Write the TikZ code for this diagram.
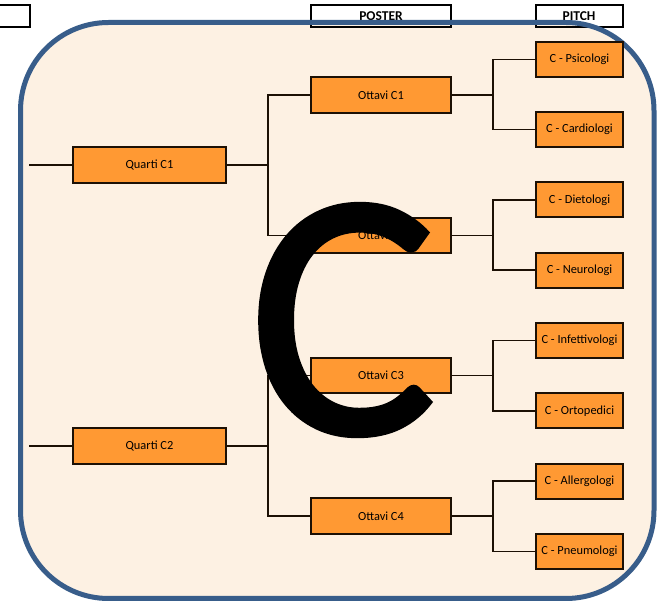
\documentclass[tikz,border=0pt]{standalone}
\usepackage{fontspec}
\setmainfont{Carlito}
\newfontfamily\bigletter[FakeBold=1]{Carlito}
\usetikzlibrary{positioning}

\definecolor{cream}{RGB}{253,241,227}
\definecolor{boxorange}{RGB}{255,153,51}
\definecolor{frameblue}{RGB}{56,93,138}
\definecolor{edgebrown}{RGB}{28,16,4}

\begin{document}
\begin{tikzpicture}[
	x = 1pt, y = -1pt, % one unit per pixel, y grows downwards
	W/.style={draw=edgebrown, line width=1.5pt},  % bracket wires
	Q/.style={rectangle, draw=edgebrown, fill=boxorange, line width=2pt, inner sep=0pt, minimum width=153pt, minimum height=35.5pt, font=\fontsize{12.4}{14}\selectfont},
	O/.style={Q, minimum width=140pt},
	L/.style={Q, minimum width=87pt, minimum height=35pt},
	H/.style={rectangle, draw=black, line width=2pt, inner sep=0pt, minimum height=22pt},
	HT/.style={inner sep=0pt, anchor=base, font=\fontsize{13.5}{15}\selectfont\bfseries},
	]

	\useasboundingbox (0,0) rectangle (657,601);

	% background panel
	\fill[cream, rounded corners=88pt] (20.5,22.5) rectangle (654,598.5);

	% column headers
	\node[H, minimum width=90pt]  (hleft)   at (-15,16)  {};
	\node[H, minimum width=140pt] (hposter) at (381,16)  {};
	\node[H, minimum width=87pt]  (hpitch)  at (579,16)  {};
	\begin{scope}
		\clip (300,0) rectangle (640,19.5);
		\node[HT] (tposter) at (381,20.5) {POSTER};
		\node[HT] (tpitch)  at (579,20.5) {PITCH};
	\end{scope}

	% panel frame
	\draw[frameblue, line width=5pt, rounded corners=88pt] (20.5,22.5) rectangle (654,598.5);

	% Nodes and their relative positions
	% quarti
	\node[Q] (q1) at (149.5,165) {Quarti C1};
	\node[Q] (q2) [below = 243.5pt of q1] {Quarti C2};
	% ottavi
	\node[O] (o1) at (381,95) {Ottavi C1};
	\node[O] (o2) [below = 102.8pt of o1] {Ottavi C2};
	\node[O] (o3) [below = 102.8pt of o2] {Ottavi C3};
	\node[O] (o4) [below = 102.8pt of o3] {Ottavi C4};
	% pitch
	\node[L] (psi) at (579.5,59.3) {C - Psicologi};
	\node[L] (car) [below = 33.3pt of psi] {C - Cardiologi};
	\node[L] (die) [below = 33.3pt of car] {C - Dietologi};
	\node[L] (neu) [below = 33.3pt of die] {C - Neurologi};
	\node[L] (inf) [below = 33.3pt of neu] {C - Infettivologi};
	\node[L] (ort) [below = 33.3pt of inf] {C - Ortopedici};
	\node[L] (all) [below = 33.3pt of ort] {C - Allergologi};
	\node[L] (pne) [below = 33.3pt of all] {C - Pneumologi};

	% Paths connecting nodes
	\draw[W] (q1.west) -- ++(-43,0);
	\draw[W] (q2.west) -- ++(-43,0);
	\draw[W] (q1.east) -- ++(42,0);
	\draw[W] (q2.east) -- ++(42,0);
	\draw[W] (o1.west) -- ++(-42,0) |- (o2.west);
	\draw[W] (o3.west) -- ++(-42,0) |- (o4.west);

	\draw[W] (o1.east) -- ++(42,0);
	\draw[W] (o2.east) -- ++(42,0);
	\draw[W] (o3.east) -- ++(42,0);
	\draw[W] (o4.east) -- ++(42,0);
	\draw[W] (psi.west) -- ++(-42,0) |- (car.west);
	\draw[W] (die.west) -- ++(-42,0) |- (neu.west);
	\draw[W] (inf.west) -- ++(-42,0) |- (ort.west);
	\draw[W] (all.west) -- ++(-42,0) |- (pne.west);

	% big letter on top
	\node[inner sep=0pt, anchor=base, font=\bigletter\fontsize{355}{355}\selectfont] (bigC) at (343,434) {C};

\end{tikzpicture}
\end{document}
